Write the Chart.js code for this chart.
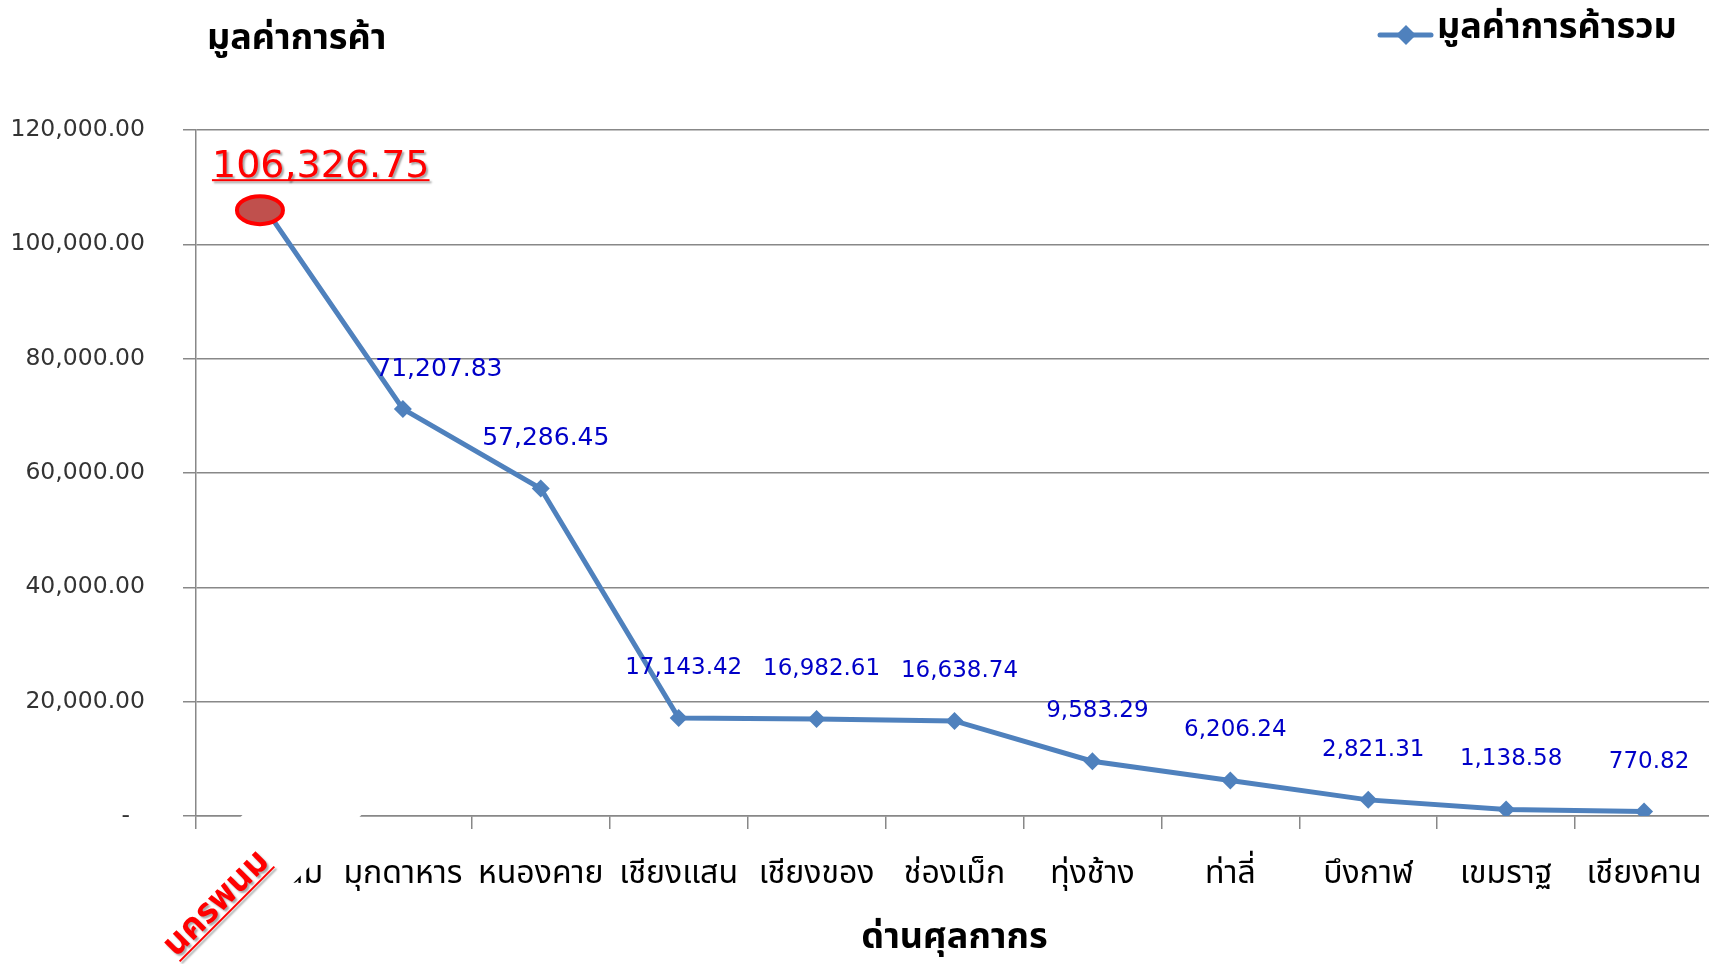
<!DOCTYPE html>
<html>
<head>
<meta charset="utf-8">
<title>มูลค่าการค้า</title>
<script src="https://cdn.jsdelivr.net/npm/chart.js@4.4.0/dist/chart.umd.min.js"></script>
<style>
    html, body { margin: 0; padding: 0; background: #fff; overflow: hidden; }
    #outer { width: 1709px; height: 964px; overflow: hidden; position: relative; }
    #inner { width: 1722px; height: 964px; position: absolute; left: 0; top: 0; }
    canvas { display: block; }
</style>
</head>
<body>
<div id="outer"><div id="inner"><canvas id="tradeChart" width="1722" height="964" style="width:1722px;height:964px"></canvas></div></div>
<script>
// Chart data
const checkpoints = ['นครพนม', 'มุกดาหาร', 'หนองคาย', 'เชียงแสน', 'เชียงของ', 'ช่องเม็ก', 'ทุ่งช้าง', 'ท่าลี่', 'บึงกาฬ', 'เขมราฐ', 'เชียงคาน'];
const tradeValues = [106326.75, 71207.83, 57286.45, 17143.42, 16982.61, 16638.74, 9583.29, 6206.24, 2821.31, 1138.58, 770.82];
const yTickValues = [0, 20000, 40000, 60000, 80000, 100000, 120000];

const seriesName = 'มูลค่าการค้ารวม';
const yTitle = 'มูลค่าการค้า';
const xTitle = 'ด่านศุลกากร';

const lineColor = '#4f81bd';
const gridColor = '#888888';
const thaiFont = "'Noto Sans Thai', 'Noto Sans Thai UI', 'Loma', 'Garuda', 'Noto Sans', sans-serif";
const numFont = "'DejaVu Sans', sans-serif";

const fmt = v => v.toLocaleString('en-US', { minimumFractionDigits: 2, maximumFractionDigits: 2 });

const overlayPlugin = {
    id: 'overlay',
    afterDatasetsDraw(chart) {
        const ctx = chart.ctx;
        const meta = chart.getDatasetMeta(0);

        // Value labels above the points
        ctx.save();
        ctx.fillStyle = '#0000c8';
        ctx.textAlign = 'center';
        ctx.textBaseline = 'middle';
        meta.data.forEach((pt, i) => {
            if (i === 0) return;
            let dx = 5, dy = -50;
            if (i === 1) { dx = 36; dy = -39; }
            ctx.font = (i < 3 ? '25px ' : '23px ') + numFont;
            ctx.fillText(fmt(tradeValues[i]), pt.x + dx, pt.y + dy);
        });

        // Highlight the top point
        const p0 = meta.data[0];
        ctx.beginPath();
        ctx.ellipse(p0.x - 5, p0.y + 2, 23, 14, 0, 0, Math.PI * 2);
        ctx.fillStyle = '#c0504d';
        ctx.fill();
        ctx.lineWidth = 4;
        ctx.strokeStyle = '#ff0000';
        ctx.stroke();

        // Big red value label with shadow and underline
        ctx.font = '38px ' + numFont;
        ctx.textAlign = 'left';
        ctx.textBaseline = 'alphabetic';
        ctx.shadowColor = 'rgba(0,0,0,0.35)';
        ctx.shadowOffsetX = 2;
        ctx.shadowOffsetY = 2;
        ctx.shadowBlur = 2;
        ctx.fillStyle = '#ff0000';
        const txt = fmt(tradeValues[0]);
        const lx = p0.x - 53, ly = p0.y - 31;
        ctx.fillText(txt, lx, ly);
        const w = ctx.measureText(txt).width;
        ctx.fillRect(lx, ly + 2, w, 2);
        ctx.restore();
    },
    afterDraw(chart) {
        const ctx = chart.ctx;
        const xScale = chart.scales.x;
        const cx = xScale.getPixelForValue(0) - 50;
        const cy = chart.chartArea.bottom + 86;

        // White rotated box over the first category label, then the red label
        ctx.save();
        ctx.translate(cx, cy);
        ctx.rotate(-Math.PI / 4);
        ctx.fillStyle = '#ffffff';
        ctx.fillRect(-90, -42, 260, 84);
        ctx.font = 'bold 35px ' + thaiFont;
        ctx.textAlign = 'center';
        ctx.textBaseline = 'alphabetic';
        ctx.shadowColor = 'rgba(0,0,0,0.35)';
        ctx.shadowOffsetX = 2;
        ctx.shadowOffsetY = 2;
        ctx.shadowBlur = 2;
        ctx.fillStyle = '#ff0000';
        ctx.fillText(checkpoints[0], 0, 12);
        const tw = ctx.measureText(checkpoints[0]).width;
        ctx.fillRect(-tw / 2, 16, tw, 2);
        ctx.restore();

        // Axis title at the top left
        ctx.save();
        ctx.font = 'bold 36px ' + thaiFont;
        ctx.fillStyle = '#000';
        ctx.textBaseline = 'middle';
        ctx.textAlign = 'left';
        ctx.fillText(yTitle, 207, 42);

        // Legend at the top right
        ctx.strokeStyle = lineColor;
        ctx.lineWidth = 5;
        ctx.lineCap = 'round';
        ctx.beginPath();
        ctx.moveTo(1380, 35);
        ctx.lineTo(1431, 35);
        ctx.stroke();
        ctx.fillStyle = lineColor;
        ctx.beginPath();
        ctx.moveTo(1406, 25);
        ctx.lineTo(1416, 35);
        ctx.lineTo(1406, 45);
        ctx.lineTo(1396, 35);
        ctx.closePath();
        ctx.fill();
        ctx.fillStyle = '#000';
        ctx.fillText(seriesName, 1437, 31);
        ctx.restore();
    }
};

new Chart(document.getElementById('tradeChart'), {
    type: 'line',
    data: {
        labels: checkpoints,
        datasets: [{
            label: seriesName,
            data: tradeValues,
            borderColor: lineColor,
            backgroundColor: lineColor,
            borderWidth: 5,
            tension: 0,
            pointStyle: 'rectRot',
            pointRadius: 9,
            pointBorderWidth: 0,
            pointBackgroundColor: lineColor
        }]
    },
    options: {
        responsive: false,
        animation: false,
        devicePixelRatio: 1,
        layout: { padding: { top: 130, left: 0, right: 3, bottom: 0 } },
        plugins: {
            legend: { display: false },
            title: { display: false },
            tooltip: { enabled: false }
        },
        scales: {
            x: {
                offset: true,
                afterFit: scale => {
                    scale.height = 148;
                    // labels fit inside their category, no side padding needed
                    scale.paddingLeft = 0;
                    scale.paddingRight = 0;
                },
                grid: {
                    display: true,
                    drawOnChartArea: false,
                    drawTicks: true,
                    tickLength: 13,
                    offset: true,
                    color: gridColor,
                    lineWidth: 1.5
                },
                border: { display: true, color: gridColor, width: 1.5 },
                ticks: {
                    autoSkip: false,
                    maxRotation: 0,
                    minRotation: 0,
                    padding: 28,
                    color: '#000',
                    font: { family: thaiFont, size: 32 }
                },
                title: {
                    display: true,
                    text: xTitle,
                    color: '#000',
                    font: { family: thaiFont, size: 36, weight: 'bold' },
                    padding: { top: 0, bottom: 2 }
                }
            },
            y: {
                min: 0,
                max: 120000,
                afterFit: scale => { scale.width = 196; },
                afterBuildTicks: scale => {
                    scale.ticks = yTickValues.map(v => ({ value: v }));
                },
                grid: {
                    color: gridColor,
                    lineWidth: 1.5,
                    drawTicks: true,
                    tickLength: 13
                },
                border: { display: true, color: gridColor, width: 1.5 },
                ticks: {
                    padding: 38,
                    color: '#333',
                    font: { family: numFont, size: 23.5 },
                    // accounting style: zero shown as a dash set in from the right
                    callback: v => v === 0 ? '-  ' : fmt(v)
                }
            }
        }
    },
    plugins: [overlayPlugin]
});
</script>
</body>
</html>
